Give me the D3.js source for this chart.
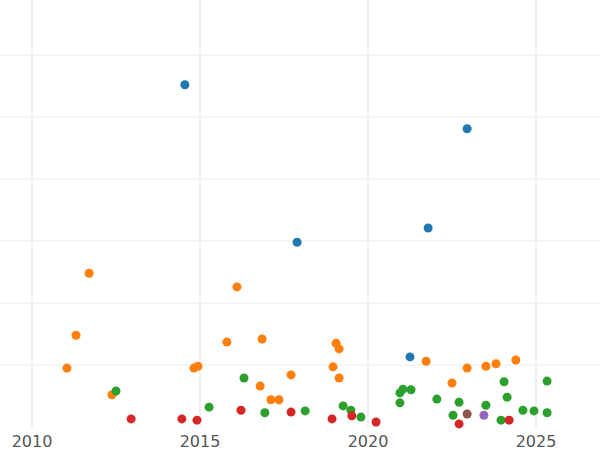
<!DOCTYPE html><html><head><meta charset="utf-8"><script src="https://cdn.jsdelivr.net/npm/d3@7"></script>
<style>body{margin:0;background:#fff}</style></head><body><svg id="c" width="600" height="450"></svg>
<script>
const xTicks=[2010,2015,2020,2025];
const yGrid=[1,2,3,4,5,6];
const blueX=[2014.55,2022.95,2021.79,2017.89,2021.25];
const blueY=[5.52,4.81,3.21,2.98,1.13];
const orangeX=[2011.70,2011.31,2011.04,2012.38,2016.10,2015.80,2016.85,2014.82,2014.94,2016.79,2017.11,2017.35,2017.71,2019.05,2019.14,2018.96,2019.14,2021.73,2022.50,2022.95,2023.51,2023.81,2024.40];
const orangeY=[2.48,1.48,0.95,0.52,2.26,1.37,1.42,0.95,0.98,0.66,0.44,0.44,0.84,1.35,1.26,0.97,0.79,1.06,0.71,0.95,0.98,1.02,1.08];
const greenX=[2012.50,2015.27,2016.31,2016.93,2018.13,2019.26,2019.49,2019.79,2020.95,2021.04,2021.28,2020.95,2022.05,2022.53,2022.71,2023.51,2024.05,2024.14,2023.96,2024.61,2024.94,2025.33,2025.33];
const greenY=[0.58,0.32,0.79,0.23,0.26,0.34,0.27,0.16,0.55,0.61,0.60,0.39,0.45,0.19,0.40,0.35,0.73,0.48,0.11,0.27,0.26,0.74,0.23];
const redX=[2012.95,2014.46,2014.91,2016.22,2017.71,2018.93,2019.52,2020.24,2022.71,2024.20];
const redY=[0.13,0.13,0.11,0.27,0.24,0.13,0.18,0.08,0.05,0.11];
const brownX=[2022.95],brownY=[0.21];
const purpleX=[2023.45],purpleY=[0.19];
const series=[[blueX,blueY,"#1f77b4"],[orangeX,orangeY,"#ff7f0e"],[greenX,greenY,"#2ca02c"],[redX,redY,"#d62728"],[brownX,brownY,"#8c564b"],[purpleX,purpleY,"#9467bd"]];
const svg=d3.select("#c");
const x=d3.scaleLinear().domain([2010,2015]).range([32,200]);
const y=d3.scaleLinear().domain([0,1]).range([427,365]);
svg.append("g").selectAll("line").data(yGrid).join("line").attr("x1",0).attr("x2",600).attr("y1",d=>y(d)).attr("y2",d=>y(d)).attr("stroke","#ebebeb").attr("stroke-width",1.2);
svg.append("g").selectAll("line").data(xTicks).join("line").attr("y1",0).attr("y2",427).attr("x1",d=>x(d)).attr("x2",d=>x(d)).attr("stroke","#ebebeb").attr("stroke-width",1.5);
svg.append("g").selectAll("text").data(xTicks).join("text").attr("x",d=>x(d)).attr("y",447).attr("text-anchor","middle").attr("font-family","DejaVu Sans").attr("font-size",16).attr("fill","#555").text(d=>d);
series.forEach(([xs,ys,c])=>{svg.append("g").selectAll("circle").data(xs.map((v,i)=>[v,ys[i]])).join("circle").attr("cx",d=>x(d[0])).attr("cy",d=>y(d[1])).attr("r",4.5).attr("fill",c);});
</script></body></html>
